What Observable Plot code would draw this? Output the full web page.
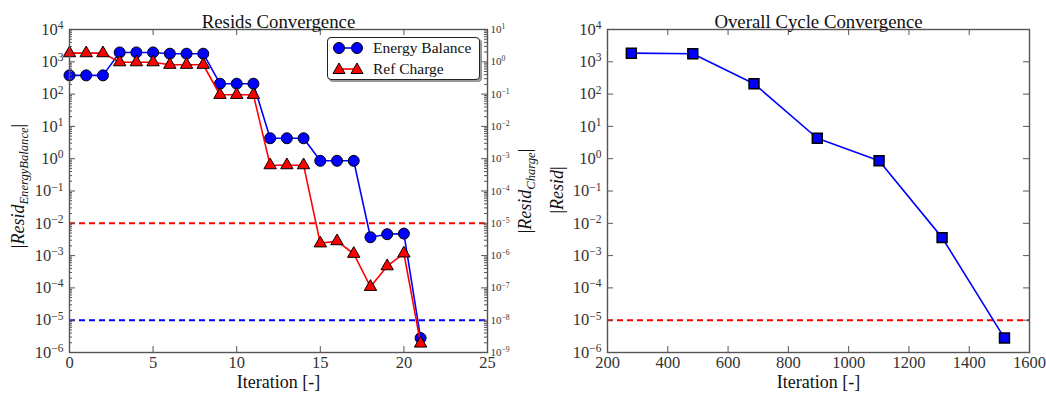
<!DOCTYPE html>
<html><head><meta charset="utf-8">
<script src="https://cdn.jsdelivr.net/npm/d3@7"></script>
<script src="https://cdn.jsdelivr.net/npm/@observablehq/plot@0.6"></script>
<style>
body{margin:0;background:#fff;}
#wrap{position:relative;width:1046px;height:396px;font-family:"Liberation Serif",serif;overflow:hidden;}
.panel{position:absolute;top:0;}
#legend{position:absolute;left:327px;top:37px;width:151px;height:41px;border:1px solid #222;border-radius:4px;background:#fff;box-shadow:2px 2px 0 #999;font-family:"Liberation Serif",serif;font-size:15.5px;color:#111;}
#legend .row{position:absolute;left:0;height:20px;display:flex;align-items:center;}
#legend svg{display:block;}
</style></head><body><div id="wrap"></div>
<script>
// ---- data ----
const iterations = [0,1,2,3,4,5,6,7,8,9,10,11,12,13,14,15,16,17,18,19,20,21];
const energyBalance = [380,380,380,1950,1950,1950,1780,1780,1780,210,210,210,4.3,4.3,4.3,0.86,0.86,0.86,0.0037,0.0046,0.0048,2.8e-6];
const refCharge = [1.85,1.85,1.85,0.97,0.97,0.97,0.81,0.81,0.81,0.095,0.095,0.095,6.3e-4,6.3e-4,6.3e-4,2.4e-6,2.8e-6,1.14e-6,1.08e-7,4.7e-7,1.17e-6,1.9e-9];
const energyTolerance = 1e-5;
const chargeTolerance = 1e-5;
const cycleIterations = [279,483,686,896,1101,1310,1517];
const cycleResid = [1850,1780,210,4.3,0.86,0.0036,2.8e-6];
const cycleTolerance = 1e-5;
const residXTicks = [0,5,10,15,20,25];
const cycleXTicks = [200,400,600,800,1000,1200,1400,1600];
const energyYTicks = [1e-6,1e-5,1e-4,1e-3,1e-2,1e-1,1,1e1,1e2,1e3,1e4];
const chargeYTicks = [1e-9,1e-8,1e-7,1e-6,1e-5,1e-4,1e-3,1e-2,1e-1,1,1e1];
const seriesNames = ["Energy Balance","Ref Charge"];

// ---- layout ----
const H = 396, mT = 29, mB = 44;
const W1 = 540, mL1 = 69, mR1 = 53;
const W2 = 506, mL2 = 67, mR2 = 17;
const FONT = "Liberation Serif";
const SPINE = "#555";

const energyDomain = [energyYTicks[0], energyYTicks[energyYTicks.length-1]];
const chargeDomain = [chargeYTicks[0], chargeYTicks[chargeYTicks.length-1]];
const chargeShift = energyDomain[1] / chargeDomain[1];

const resid = iterations.map((it,i)=>({it, energy: energyBalance[i], charge: refCharge[i]*chargeShift}));
const cycle = cycleIterations.map((it,i)=>({it, resid: cycleResid[i]}));

const pow = d => "10^" + Math.round(Math.log10(d));
const minorTicks = (majors) => {
  const out = [];
  for (let i = 0; i < majors.length-1; i++) for (let k = 2; k < 10; k++) out.push(majors[i]*k);
  return out;
};

function superscripts(svg){
  d3.select(svg).selectAll("text").each(function(){
    const m = /^10\^(-?\d+)$/.exec(this.textContent);
    if (!m) return;
    const el = d3.select(this);
    el.text(null);
    el.append("tspan").text("10");
    el.append("tspan").attr("dy","-0.5em").attr("font-size","0.7em").text(m[1].replace("-","\u2212"));
  });
}
function mathLabel(svg, x, y, sub, size){
  const t = d3.select(svg).append("text")
    .attr("transform",`translate(${x},${y}) rotate(-90)`)
    .attr("text-anchor","middle").attr("font-family",FONT).attr("font-size",size)
    .attr("fill","#111").attr("dy","0.35em");
  t.append("tspan").text("|");
  t.append("tspan").attr("font-style","italic").text("Resid");
  if (sub) {
    t.append("tspan").attr("font-style","italic").attr("font-size",size*0.7).attr("dy","0.3em").text(sub);
    t.append("tspan").attr("dy",`${-0.3*0.7}em`).text("|");
  } else t.append("tspan").text("|");
}

const wrap = document.getElementById("wrap");
const fw1 = W1 - mL1 - mR1, fw2 = W2 - mL2 - mR2, fh = H - mT - mB;

// ---- left panel ----
const left = Plot.plot({
  width: W1, height: H, marginLeft: mL1, marginRight: mR1, marginTop: mT, marginBottom: mB,
  x: {domain: [residXTicks[0], residXTicks[residXTicks.length-1]], axis: null},
  y: {type: "log", domain: energyDomain, axis: null},
  style: {fontFamily: FONT, color: "#333", background: "transparent"},
  marks: [
    Plot.ruleY([chargeTolerance*chargeShift], {stroke: "red", strokeWidth: 2, strokeDasharray: "6,4"}),
    Plot.ruleY([energyTolerance], {stroke: "blue", strokeWidth: 2, strokeDasharray: "6,4"}),
    Plot.line(resid, {x: "it", y: "energy", stroke: "blue", strokeWidth: 1.6}),
    Plot.dot(resid, {x: "it", y: "energy", r: 5.5, fill: "blue", stroke: "black", strokeWidth: 1}),
    Plot.line(resid, {x: "it", y: "charge", stroke: "red", strokeWidth: 1.6}),
    Plot.dot(resid, {x: "it", y: "charge", symbol: "triangle", r: 4.6, fill: "red", stroke: "black", strokeWidth: 1}),
    // ticks inside the frame
    Plot.tickY(energyYTicks, {y: d=>d, insetRight: fw1-6, stroke: SPINE}),
    Plot.tickY(minorTicks(energyYTicks), {y: d=>d, insetRight: fw1-3, stroke: SPINE}),
    Plot.tickY(energyYTicks, {y: d=>d, insetLeft: fw1-6, stroke: SPINE}),
    Plot.tickY(minorTicks(energyYTicks), {y: d=>d, insetLeft: fw1-3, stroke: SPINE}),
    Plot.tickX(residXTicks, {x: d=>d, insetTop: fh-6, stroke: SPINE}),
    Plot.tickX(residXTicks, {x: d=>d, insetBottom: fh-6, stroke: SPINE}),
    Plot.frame({stroke: SPINE, strokeWidth: 1.4}),
    Plot.axisY(energyYTicks, {anchor: "left", tickSize: 0, tickPadding: 6, tickFormat: pow, fontSize: 16.5, label: null}),
    Plot.axisY(energyYTicks, {anchor: "right", tickSize: 0, tickPadding: 3, tickFormat: d => pow(d/chargeShift), fontSize: 11, label: null}),
    Plot.axisX(residXTicks, {anchor: "bottom", tickSize: 0, tickPadding: 4, fontSize: 16.5, label: null}),
    Plot.text(["Resids Convergence"], {frameAnchor: "top", dy: -15, text: d=>d, fontSize: 18.8, fill: "#111"}),
    Plot.text(["Iteration [-]"], {frameAnchor: "bottom", dy: 35.5, text: d=>d, fontSize: 18, fill: "#111"})
  ]
});
left.classList.add("panel"); left.style.left = "0px";
superscripts(left);
mathLabel(left, 18, 186, "EnergyBalance", 18);
mathLabel(left, 525, 191, "Charge", 18);
wrap.appendChild(left);

// ---- right panel ----
const right = Plot.plot({
  width: W2, height: H, marginLeft: mL2, marginRight: mR2, marginTop: mT, marginBottom: mB,
  x: {domain: [cycleXTicks[0], cycleXTicks[cycleXTicks.length-1]], axis: null},
  y: {type: "log", domain: energyDomain, axis: null},
  style: {fontFamily: FONT, color: "#333", background: "transparent"},
  marks: [
    Plot.ruleY([cycleTolerance], {stroke: "red", strokeWidth: 2, strokeDasharray: "6,4"}),
    Plot.line(cycle, {x: "it", y: "resid", stroke: "blue", strokeWidth: 1.6}),
    Plot.dot(cycle, {x: "it", y: "resid", symbol: "square", r: 5.6, fill: "blue", stroke: "black", strokeWidth: 1.5}),
    Plot.tickY(energyYTicks, {y: d=>d, insetRight: fw2-6, stroke: SPINE}),
    Plot.tickY(energyYTicks, {y: d=>d, insetLeft: fw2-6, stroke: SPINE}),
    Plot.tickX(cycleXTicks, {x: d=>d, insetTop: fh-6, stroke: SPINE}),
    Plot.tickX(cycleXTicks, {x: d=>d, insetBottom: fh-6, stroke: SPINE}),
    Plot.frame({stroke: SPINE, strokeWidth: 1.4}),
    Plot.axisY(energyYTicks, {anchor: "left", tickSize: 0, tickPadding: 6, tickFormat: pow, fontSize: 16.5, label: null}),
    Plot.axisX(cycleXTicks, {anchor: "bottom", tickSize: 0, tickPadding: 4, fontSize: 16.5, label: null, tickFormat: d => String(d)}),
    Plot.text(["Overall Cycle Convergence"], {frameAnchor: "top", dy: -15, text: d=>d, fontSize: 18.8, fill: "#111"}),
    Plot.text(["Iteration [-]"], {frameAnchor: "bottom", dy: 35.5, text: d=>d, fontSize: 18, fill: "#111"})
  ]
});
right.classList.add("panel"); right.style.left = W1 + "px";
superscripts(right);
mathLabel(right, 17, 190, null, 18);
wrap.appendChild(right);

// ---- legend ----
const legend = document.createElement("div");
legend.id = "legend";
const markerSvg = (kind, color) => {
  let m = "";
  for (const cx of [11, 29]) {
    if (kind === "circle") m += `<circle cx="${cx}" cy="10" r="5.5" fill="${color}" stroke="black"/>`;
    else m += `<path d="M${cx},${10-6} L${cx+6},${10+4.5} L${cx-6},${10+4.5} Z" fill="${color}" stroke="black"/>`;
  }
  return `<svg width="40" height="20"><line x1="11" y1="10" x2="29" y2="10" stroke="${color}" stroke-width="1.6"/>${m}</svg>`;
};
legend.innerHTML =
  `<div class="row" style="top:0px;left:0px">${markerSvg("circle","blue")}<span style="margin-left:5px">${seriesNames[0]}</span></div>` +
  `<div class="row" style="top:21px;left:0px">${markerSvg("triangle","red")}<span style="margin-left:5px">${seriesNames[1]}</span></div>`;
wrap.appendChild(legend);
</script></body></html>
